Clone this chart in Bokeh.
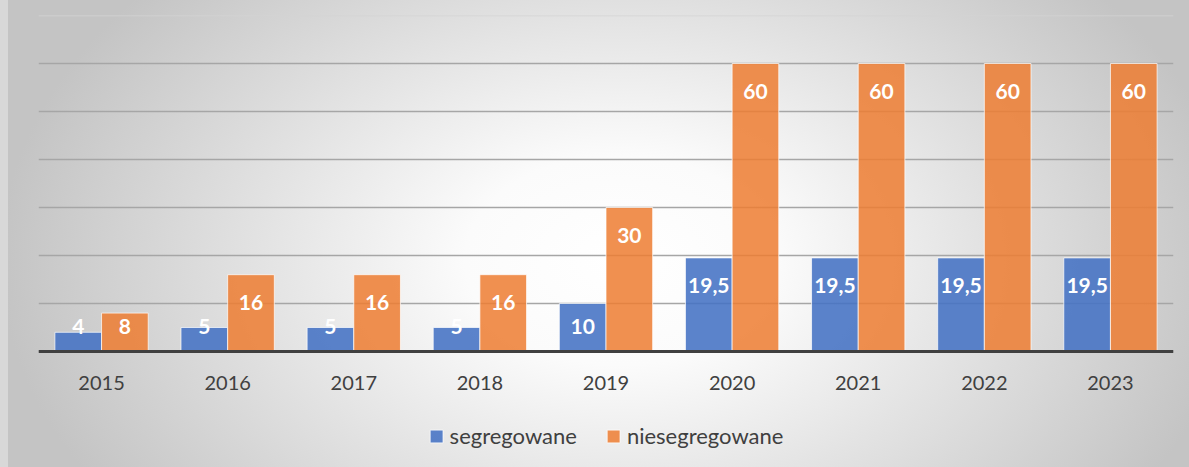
from bokeh.plotting import figure
from bokeh.models import (FactorRange, ColumnDataSource, Legend, LegendItem,
                          FixedTicker, Span)
from bokeh.transform import dodge
from bokeh.core.properties import value
from bokeh.embed import file_html
from bokeh.resources import INLINE

# ---- data ----
years = ["2015", "2016", "2017", "2018", "2019", "2020", "2021", "2022", "2023"]
segregowane = [4, 5, 5, 5, 10, 19.5, 19.5, 19.5, 19.5]
niesegregowane = [8, 16, 16, 16, 30, 60, 60, 60, 60]
series_names = ["segregowane", "niesegregowane"]
y_ticks = [0, 10, 20, 30, 40, 50, 60]
y_max = 70

# layout: 4.8 px per unit; frame extends below zero to hold labels + legend
PX_PER_UNIT = 4.8
BELOW_PX = 116
y_min = -BELOW_PX / PX_PER_UNIT


def fmt(v):
    return f"{v:g}".replace(".", ",")


def label_pos(v):
    # data label sits inside the bar end, but not lower than a minimum
    return max(v - 5.8, 5.2)


src = ColumnDataSource(dict(
    year=years,
    seg=segregowane,
    nie=niesegregowane,
    seg_lbl=[fmt(v) for v in segregowane],
    nie_lbl=[fmt(v) for v in niesegregowane],
    seg_y=[label_pos(v) for v in segregowane],
    nie_y=[label_pos(v) for v in niesegregowane],
    zero=[0] * len(years),
))

FONT = "Lato"
TXT = "#404040"

p = figure(x_range=FactorRange(*years), y_range=(y_min, y_max),
           frame_width=1135, frame_height=int(round((y_max - y_min) * PX_PER_UNIT)),
           output_backend="svg", toolbar_location=None, title=None,
           min_border_left=38, min_border_right=16,
           min_border_top=15, min_border_bottom=0)

p.background_fill_color = None
p.border_fill_color = None
p.outline_line_color = None
p.styles = {
    "background-image":
        "linear-gradient(to right, #d8d8d8 8px, transparent 8px), "
        "radial-gradient(ellipse 620px 420px at 620px 260px, #ffffff 0%, "
        "#fbfbfb 25%, #c4c4c4 100%)"
}

bw = 0.37
off = bw / 2

# grid
p.xgrid.visible = False
p.ygrid.ticker = FixedTicker(ticks=y_ticks)
p.ygrid.grid_line_color = "#a6a6a6"
p.ygrid.grid_line_width = 1.5
p.add_layout(Span(location=y_max, dimension="width", line_color="#d4d4d4",
                  line_width=1.5))

r1 = p.vbar(x=dodge("year", -off, range=p.x_range), top="seg", bottom=0,
            width=bw, source=src, fill_color="#4472C4", fill_alpha=0.88,
            line_color="white", line_alpha=0.7, line_width=1)
r2 = p.vbar(x=dodge("year", off, range=p.x_range), top="nie", bottom=0,
            width=bw, source=src, fill_color="#ED7D31", fill_alpha=0.85,
            line_color="white", line_alpha=0.7, line_width=1)

for xo, ycol, tcol in [(-off, "seg_y", "seg_lbl"), (off, "nie_y", "nie_lbl")]:
    p.text(x=dodge("year", xo, range=p.x_range), y=ycol, text=tcol,
           source=src, text_align="center", text_baseline="middle",
           text_color="white", text_font=value(FONT),
           text_font_style="bold", text_font_size="21px")

# category axis: baseline + year labels
p.add_layout(Span(location=0, dimension="width", line_color="#404040",
                  line_width=3, level="overlay"))
p.text(x="year", y="zero", text="year", source=src, y_offset=31,
       text_align="center", text_baseline="middle", text_color=TXT,
       text_font=value(FONT), text_font_size="20px")

p.xaxis.visible = False
p.yaxis.visible = False

legend = Legend(items=[LegendItem(label=series_names[0], renderers=[r1]),
                       LegendItem(label=series_names[1], renderers=[r2])],
                orientation="horizontal", location="bottom_center",
                background_fill_alpha=0, border_line_alpha=0,
                label_text_font=FONT, label_text_font_size="22px",
                label_text_color=TXT, spacing=28, label_standoff=6,
                glyph_width=16, glyph_height=16, margin=13, padding=5)
p.add_layout(legend, "center")

open("out.html", "w").write(file_html(p, INLINE))
